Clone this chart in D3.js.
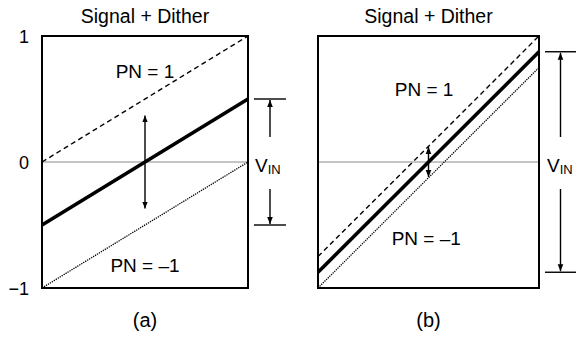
<!DOCTYPE html>
<html>
<head>
<meta charset="utf-8">
<script src="https://cdn.jsdelivr.net/npm/d3@7"></script>
<style>
  html, body { margin: 0; padding: 0; background: #fff; }
  svg { display: block; font-family: Arial, "Liberation Sans", sans-serif; }
</style>
</head>
<body>
<svg id="chart" width="576" height="339"></svg>
<script>
// Panel captions and titles
const panelLabels = ["(a)", "(b)"];
const panelTitles = ["Signal + Dither", "Signal + Dither"];
const yTickValues = [-1, 0, 1];
const yTickLabels = ["\u22121", "0", "1"];
const pnLabels = ["PN = 1", "PN = \u20131"];

// Signal ramp endpoints (input at x = 0 and x = 1) for each panel
const signalA = [-0.5, 0.5];
const signalB = [-0.875, 0.875];
// Dither amplitude added (PN = 1) or subtracted (PN = -1)
const ditherAmp = [0.5, 0.125];
// Half-height of the double arrow showing the dither swing
const swingHalf = [0.37, 0.12];
// Positions of the PN text labels in data units [x, y]
const pnPosA = [[0.5, 0.67], [0.5, -0.87]];
const pnPosB = [[0.48, 0.52], [0.49, -0.66]];

const signals = [signalA, signalB];
const pnPos = [pnPosA, pnPosB];

const svg = d3.select("#chart");

// Arrowhead marker
const defs = svg.append("defs");
defs.append("marker")
  .attr("id", "head")
  .attr("viewBox", "0 0 10 10")
  .attr("refX", 10).attr("refY", 5)
  .attr("markerUnits", "userSpaceOnUse")
  .attr("markerWidth", 7).attr("markerHeight", 10)
  .attr("orient", "auto-start-reverse")
  .append("path")
  .attr("d", "M0,1 L10,5 L0,9 Z")
  .attr("fill", "#000");

const y = d3.scaleLinear().domain([-1, 1]).range([288, 36]);

const panelsGeom = [
  { x0: 42, x1: 248, bracketX0: 254, bracketX1: 286, vinX: 255 },
  { x0: 318, x1: 539, bracketX0: 545, bracketX1: 576, vinX: 547 }
];

panelsGeom.forEach((g, i) => {
  const x = d3.scaleLinear().domain([0, 1]).range([g.x0, g.x1]);
  const sig = signals[i];
  const d = ditherAmp[i];
  const pts = v => [[0, v[0]], [1, v[1]]];
  const line = d3.line().x(p => x(p[0])).y(p => y(p[1]));
  const G = svg.append("g");

  // Title
  G.append("text")
    .attr("x", x(0.5)).attr("y", 23)
    .attr("text-anchor", "middle")
    .attr("font-size", 19.5)
    .text(panelTitles[i]);

  // Zero reference line
  G.append("line")
    .attr("x1", x(0)).attr("x2", x(1))
    .attr("y1", y(0)).attr("y2", y(0))
    .attr("stroke", "#8a8a8a").attr("stroke-width", 1);

  // PN = 1 (dashed), PN = -1 (dotted), signal (thick)
  G.append("path")
    .attr("d", line(pts([sig[0] + d, sig[1] + d])))
    .attr("fill", "none").attr("stroke", "#000")
    .attr("stroke-width", 1.4).attr("stroke-dasharray", "5,3.5");
  G.append("path")
    .attr("d", line(pts([sig[0] - d, sig[1] - d])))
    .attr("fill", "none").attr("stroke", "#000")
    .attr("stroke-width", 1.3).attr("stroke-dasharray", "1.3,1");
  G.append("path")
    .attr("d", line(pts(sig)))
    .attr("fill", "none").attr("stroke", "#000")
    .attr("stroke-width", 3.6);

  // Dither swing double arrow at the zero crossing
  const xc = x(-sig[0] / (sig[1] - sig[0]));
  G.append("line")
    .attr("x1", xc).attr("x2", xc)
    .attr("y1", y(-swingHalf[i])).attr("y2", y(swingHalf[i]))
    .attr("stroke", "#000").attr("stroke-width", 1.4)
    .attr("marker-start", "url(#head)")
    .attr("marker-end", "url(#head)");

  // Frame
  G.append("rect")
    .attr("x", x(0)).attr("y", y(1))
    .attr("width", x(1) - x(0)).attr("height", y(-1) - y(1))
    .attr("fill", "none").attr("stroke", "#000").attr("stroke-width", 2);

  // PN labels
  pnLabels.forEach((t, k) => {
    G.append("text")
      .attr("x", x(pnPos[i][k][0])).attr("y", y(pnPos[i][k][1]))
      .attr("text-anchor", "middle")
      .attr("font-size", 19)
      .text(t);
  });

  // V_IN bracket
  const yTop = y(sig[1]), yBot = y(sig[0]);
  const ax = (g.bracketX0 + g.bracketX1) / 2;
  [yTop, yBot].forEach(yy => {
    G.append("line")
      .attr("x1", g.bracketX0).attr("x2", g.bracketX1)
      .attr("y1", yy).attr("y2", yy)
      .attr("stroke", "#000").attr("stroke-width", 1.4);
  });
  G.append("line")
    .attr("x1", ax).attr("x2", ax)
    .attr("y1", y(0) - 25).attr("y2", yTop + 1)
    .attr("stroke", "#000").attr("stroke-width", 1.4)
    .attr("marker-end", "url(#head)");
  G.append("line")
    .attr("x1", ax).attr("x2", ax)
    .attr("y1", y(0) + 27).attr("y2", yBot - 1)
    .attr("stroke", "#000").attr("stroke-width", 1.4)
    .attr("marker-end", "url(#head)");

  const vin = G.append("text")
    .attr("x", g.vinX).attr("y", y(0) + 10)
    .attr("font-size", 19);
  vin.append("tspan").text("V");
  vin.append("tspan").attr("font-size", 13).attr("dy", 2).text("IN");

  // Caption
  G.append("text")
    .attr("x", x(0.5)).attr("y", 327)
    .attr("text-anchor", "middle")
    .attr("font-size", 20)
    .text(panelLabels[i]);
});

// Y-axis labels for the left panel
const yAxis = d3.axisLeft(y).tickValues(yTickValues)
  .tickFormat((v, k) => yTickLabels[k]).tickSize(0).tickPadding(13);
const axisG = svg.append("g").attr("transform", "translate(42,0)").call(yAxis);
axisG.select(".domain").remove();
axisG.selectAll("text")
  .attr("font-size", 18)
  .attr("font-family", "Arial, 'Liberation Sans', sans-serif")
  .attr("fill", "#000")
  .attr("dy", "0.36em");
</script>
</body>
</html>
